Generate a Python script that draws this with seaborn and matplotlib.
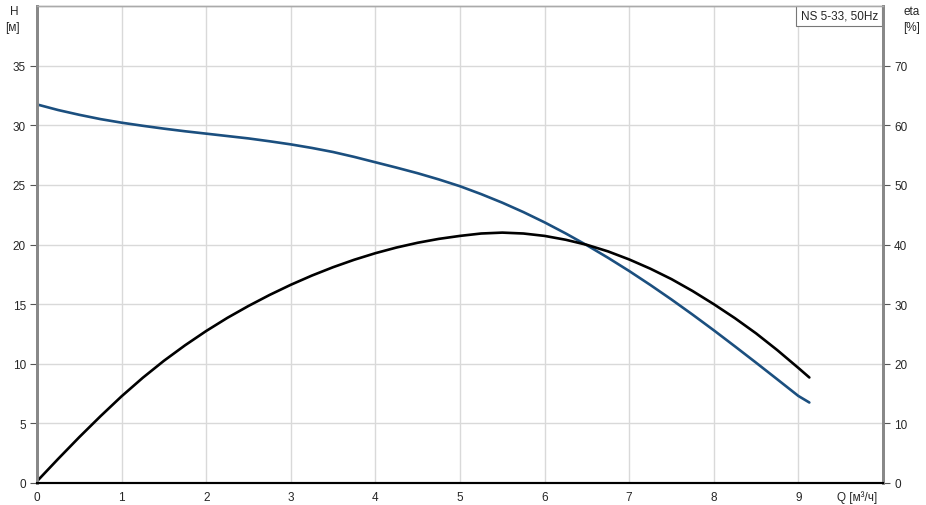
import pandas as pd
import seaborn as sns
import matplotlib.pyplot as plt

# Данные кривых насоса NS 5-33, 50Hz
q_h = [0, 0.25, 0.5, 0.75, 1, 1.25, 1.5, 1.75, 2, 2.25, 2.5, 2.75, 3, 3.25, 3.5, 3.75,
       4, 4.25, 4.5, 4.75, 5, 5.25, 5.5, 5.75, 6, 6.25, 6.5, 6.75, 7, 7.25, 7.5, 7.75,
       8, 8.25, 8.5, 8.75, 9, 9.13]
h_vals = [31.75, 31.28, 30.88, 30.52, 30.22, 29.96, 29.72, 29.5, 29.3, 29.1, 28.9, 28.66,
          28.4, 28.1, 27.76, 27.35, 26.9, 26.45, 25.98, 25.46, 24.89, 24.23, 23.51, 22.72,
          21.86, 20.93, 19.94, 18.89, 17.78, 16.61, 15.39, 14.12, 12.81, 11.46, 10.09, 8.7,
          7.3, 6.75]
q_eta = q_h
eta_vals = [0.3, 4.05, 7.7, 11.2, 14.55, 17.65, 20.5, 23.1, 25.5, 27.7, 29.7, 31.55,
            33.25, 34.8, 36.2, 37.45, 38.55, 39.5, 40.3, 40.95, 41.45, 41.85, 42.0, 41.85,
            41.45, 40.8, 39.95, 38.85, 37.5, 35.95, 34.2, 32.2, 30.0, 27.65, 25.1, 22.3,
            19.3, 17.7]
x_ticks = list(range(0, 10))
h_ticks = [0, 5, 10, 15, 20, 25, 30, 35]
eta_ticks = [0, 10, 20, 30, 40, 50, 60, 70]

df_h = pd.DataFrame({'Q': q_h, 'H': h_vals})
df_eta = pd.DataFrame({'Q': q_eta, 'eta': eta_vals})

sns.set_style('white')
plt.rcParams['font.family'] = ['Liberation Sans', 'DejaVu Sans']
plt.rcParams['font.size'] = 8.5

fig = plt.figure(figsize=(9.26, 5.06), dpi=100)
ax = fig.add_axes([0.040, 0.0435, 0.9135, 0.9425])
ax2 = ax.twinx()

sns.lineplot(data=df_h, x='Q', y='H', ax=ax, color='#1b4f7f', linewidth=1.9)
sns.lineplot(data=df_eta, x='Q', y='eta', ax=ax2, color='black', linewidth=1.9)

ax.set_xlim(0, 10)
ax.set_ylim(0, 40)
ax2.set_ylim(0, 80)
ax.set_xticks(x_ticks)
ax.set_yticks(h_ticks)
ax2.set_yticks(eta_ticks)
ax.set_xlabel('')
ax.set_ylabel('')
ax2.set_ylabel('')

# сетка
ax.grid(True, color='#d9d9d9', linewidth=1)
ax.set_axisbelow(True)

for a in (ax, ax2):
    a.spines['top'].set_color('#aaaaaa')
    a.spines['top'].set_linewidth(1)
    a.spines['left'].set_color('#888888')
    a.spines['left'].set_linewidth(2)
    a.spines['right'].set_color('#888888')
    a.spines['right'].set_linewidth(2)
    a.spines['bottom'].set_color('black')
    a.spines['bottom'].set_linewidth(1.5)

ax.tick_params(axis='x', direction='out', length=4, color='#555555', pad=2)
ax.tick_params(axis='y', direction='out', length=5, color='#555555', pad=3)
ax2.tick_params(axis='y', direction='out', length=5, color='#555555', pad=3)

# подписи осей
fig.text(10 / 926, 1 - 12 / 506, 'H', ha='left', va='center', fontsize=8.5)
fig.text(5 / 926, 1 - 28 / 506, '[м]', ha='left', va='center', fontsize=8.5)
fig.text(903 / 926, 1 - 12 / 506, 'eta', ha='left', va='center', fontsize=8.5)
fig.text(903 / 926, 1 - 28 / 506, '[%]', ha='left', va='center', fontsize=8.5)
ax.text(9.46, -0.028, 'Q [м³/ч]', transform=ax.get_xaxis_transform(),
        ha='left', va='center', fontsize=8.5)

# легенда
ax.text(0.994, 0.992, 'NS 5-33, 50Hz', transform=ax.transAxes, ha='right', va='top',
        fontsize=8.5, bbox=dict(facecolor='white', edgecolor='#777777', linewidth=0.8,
                                boxstyle='square,pad=0.35'))

plt.savefig('out.png', dpi=100)
